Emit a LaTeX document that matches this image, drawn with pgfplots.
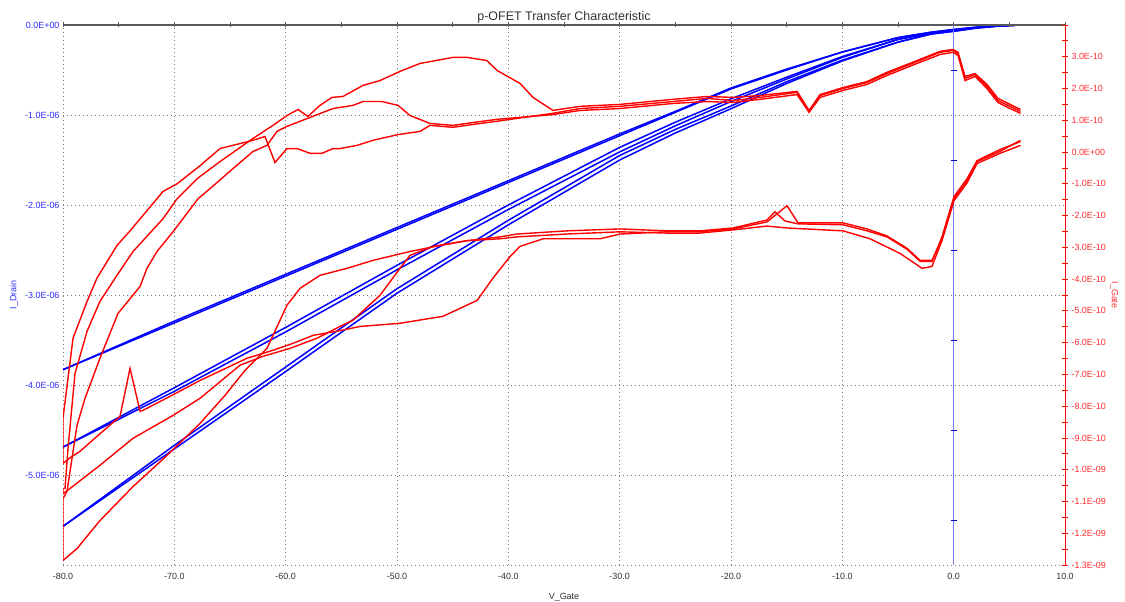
\documentclass[border=0pt]{standalone}
\usepackage{fontspec}
\setmainfont{Liberation Sans}
\usepackage{pgfplots}
\usepackage{pgfplotstable}
\pgfplotsset{compat=1.18}
\usetikzlibrary{calc}

\definecolor{drain}{RGB}{0,0,255}
\definecolor{gatec}{RGB}{255,0,0}
\definecolor{drainlbl}{RGB}{45,45,255}
\definecolor{gatelbl}{RGB}{255,45,45}
\definecolor{gridc}{RGB}{120,120,120}
\definecolor{zeroaxis}{RGB}{120,120,255}
\definecolor{zerotick}{RGB}{0,0,200}
\definecolor{topaxis}{RGB}{90,90,90}
\definecolor{tickgray}{RGB}{50,50,50}

% I_Drain in microampere, three sweep pairs (forward / reverse)
\pgfplotstableread{
V     B1a    B1b    B2a    B2b    B3a    B3b
-80  -3.83  -3.83  -4.69  -4.69  -5.57  -5.57
-70  -3.31  -3.29  -4.03  -4.07  -4.71  -4.67
-60  -2.79  -2.77  -3.36  -3.41  -3.85  -3.80
-50  -2.27  -2.25  -2.67  -2.72  -2.98  -2.93
-40  -1.75  -1.73  -2.00  -2.05  -2.22  -2.17
-30  -1.23  -1.21  -1.36  -1.41  -1.50  -1.45
-25  -0.97  -0.96  -1.08  -1.12  -1.20  -1.16
-20  -0.71  -0.70  -0.82  -0.85  -0.93  -0.90
-15  -0.50  -0.49  -0.58  -0.60  -0.65  -0.63
-10  -0.30  -0.30  -0.35  -0.36  -0.40  -0.39
-5   -0.14  -0.14  -0.16  -0.16  -0.19  -0.19
-2   -0.08  -0.08  -0.09  -0.09  -0.10  -0.10
0    -0.05  -0.05  -0.06  -0.06  -0.07  -0.07
2    -0.025 -0.025 -0.03  -0.03  -0.035 -0.035
4    -0.01  -0.01  -0.01  -0.01  -0.012 -0.012
6     0      0      0      0      0      0
}\draintable

% I_Gate in units of 1e-10 A, one closed cycle per sweep
\pgfplotstableread{
V I
6.00 1.28
5.06 1.44
3.98 1.62
2.99 2.07
1.92 2.44
1.02 2.32
0.39 3.10
-0.05 3.20
-1.23 3.14
-3.29 2.85
-5.99 2.47
-7.78 2.19
-9.94 2.00
-12.00 1.78
-12.99 1.28
-14.07 1.88
-17.40 1.72
-19.82 1.62
-22.15 1.69
-25.21 1.59
-29.97 1.44
-33.56 1.37
-35.99 1.22
-41.02 0.97
-43.17 0.87
-44.97 0.78
-47.04 0.84
-47.93 0.65
-49.91 0.55
-52.16 0.37
-53.59 0.21
-55.12 0.11
-55.75 0.11
-56.74 -0.04
-57.81 -0.04
-58.98 0.11
-59.88 0.11
-60.96 -0.33
-61.86 0.49
-62.93 0.37
-65.90 0.11
-67.69 -0.43
-69.76 -1.00
-71.02 -1.24
-71.56 -1.47
-73.98 -2.48
-75.15 -2.94
-76.95 -3.97
-77.84 -4.70
-79.10 -5.86
-80.00 -8.38
-80.00 -9.80
-79.19 -9.58
-78.47 -9.42
-76.95 -8.95
-74.88 -8.32
-73.98 -6.81
-73.08 -8.16
-72.81 -8.13
-70.39 -7.69
-67.69 -7.19
-63.47 -6.49
-61.14 -6.24
-59.34 -6.02
-57.54 -5.77
-55.39 -5.64
-53.32 -5.49
-49.73 -5.39
-45.87 -5.17
-42.81 -4.67
-41.38 -3.97
-39.85 -3.29
-38.95 -2.97
-36.89 -2.73
-31.77 -2.73
-29.97 -2.58
-25.75 -2.51
-22.78 -2.51
-19.82 -2.42
-16.77 -2.20
-14.97 -1.69
-13.98 -2.23
-9.94 -2.23
-7.78 -2.42
-5.99 -2.64
-4.19 -3.03
-3.02 -3.41
-1.95 -3.41
-1.05 -2.73
0.03 -1.47
1.20 -0.91
2.10 -0.30
4.16 0.02
6.00 0.37
}\gateA

\pgfplotstableread{
V I
6.00 1.34
5.06 1.50
3.98 1.69
2.99 2.13
1.92 2.47
1.02 2.38
0.39 3.14
-0.06 3.23
-1.23 3.17
-3.29 2.88
-5.99 2.51
-7.78 2.22
-9.94 2.03
-12.00 1.81
-12.99 1.31
-14.07 1.91
-17.40 1.78
-19.82 1.72
-22.15 1.75
-25.21 1.66
-29.97 1.50
-33.56 1.44
-35.99 1.31
-37.78 1.72
-38.95 2.16
-41.02 2.57
-41.92 2.88
-43.71 2.98
-44.97 2.98
-47.93 2.79
-49.73 2.54
-51.53 2.25
-53.05 2.10
-54.85 1.75
-55.84 1.72
-56.92 1.47
-58.00 1.12
-58.89 1.34
-59.88 1.15
-61.14 0.84
-62.93 0.43
-65.90 -0.30
-67.96 -0.84
-69.76 -1.47
-71.02 -2.10
-73.71 -3.13
-75.15 -3.88
-76.68 -4.70
-77.84 -5.64
-78.92 -6.97
-79.55 -9.33
-79.82 -10.59
-80.00 -10.59
-80.00 -10.75
-79.37 -10.59
-76.68 -9.86
-73.71 -9.01
-70.12 -8.29
-67.69 -7.75
-64.10 -6.71
-62.04 -6.43
-59.61 -6.18
-57.19 -5.86
-55.12 -5.49
-53.95 -5.29
-51.53 -4.51
-49.73 -3.66
-48.83 -3.25
-46.77 -2.97
-43.71 -2.79
-40.75 -2.67
-39.22 -2.58
-34.73 -2.48
-29.97 -2.42
-25.75 -2.48
-22.78 -2.48
-19.82 -2.39
-16.77 -2.14
-16.05 -1.88
-15.15 -2.17
-13.98 -2.26
-9.94 -2.29
-7.78 -2.48
-5.99 -2.67
-4.19 -3.06
-3.02 -3.44
-1.95 -3.44
-1.05 -2.67
0.03 -1.40
1.20 -0.84
2.10 -0.27
4.16 0.08
6.00 0.33
}\gateB

\pgfplotstableread{
V I
6.00 1.22
5.06 1.37
3.98 1.56
2.99 2.00
1.92 2.38
1.02 2.25
0.39 3.04
-0.06 3.14
-1.23 3.07
-3.29 2.79
-5.99 2.41
-7.78 2.13
-9.94 1.94
-12.00 1.72
-12.99 1.25
-14.07 1.81
-17.40 1.66
-19.82 1.56
-22.15 1.59
-25.21 1.53
-29.97 1.37
-33.56 1.31
-35.99 1.18
-41.02 1.03
-43.17 0.93
-44.97 0.84
-47.04 0.90
-48.83 1.15
-49.91 1.47
-51.35 1.59
-53.05 1.59
-53.95 1.47
-55.75 1.37
-57.81 1.09
-59.88 0.81
-60.78 0.65
-61.68 0.21
-62.93 0.02
-64.73 -0.52
-66.53 -1.07
-67.87 -1.47
-70.12 -2.51
-71.56 -3.13
-72.46 -3.66
-73.08 -4.23
-75.06 -5.08
-76.68 -6.49
-78.02 -7.75
-78.74 -8.60
-79.64 -10.68
-80.00 -10.91
-80.00 -12.86
-78.74 -12.48
-76.68 -11.60
-73.71 -10.53
-70.66 -9.55
-67.69 -8.54
-65.45 -7.66
-63.65 -6.87
-61.68 -6.18
-59.88 -4.82
-58.71 -4.29
-56.92 -3.88
-54.49 -3.66
-52.16 -3.41
-48.83 -3.13
-46.14 -2.94
-43.71 -2.79
-40.75 -2.73
-39.22 -2.67
-34.73 -2.58
-29.97 -2.51
-25.75 -2.55
-22.78 -2.55
-19.82 -2.45
-16.77 -2.33
-14.97 -2.39
-9.94 -2.48
-7.51 -2.73
-4.82 -3.19
-2.84 -3.66
-1.95 -3.60
-1.05 -2.79
0.03 -1.53
1.20 -0.97
2.10 -0.36
4.16 -0.04
6.00 0.21
}\gateC

\newcommand{\ticksize}{\fontsize{9}{10}\selectfont}

\begin{document}
\begin{tikzpicture}
% drain current, left scale
\begin{axis}[
  name=main,
  scale only axis, width=1002bp, height=540bp,
  xmin=-80, xmax=10, ymin=-6, ymax=0,
  clip=false,
  xtick={-80,-70,-60,-50,-40,-30,-20,-10,0,10},
  xticklabels={-80.0,-70.0,-60.0,-50.0,-40.0,-30.0,-20.0,-10.0,0.0,10.0},
  ytick={-5,-4,-3,-2,-1,0},
  yticklabels={-5.0E-06,-4.0E-06,-3.0E-06,-2.0E-06,-1.0E-06,0.0E+00},
  extra y ticks={-6}, extra y tick labels={},
  extra tick style={grid=major},
  grid=major,
  major grid style={gridc, line width=0.8bp, dash pattern=on 0.8bp off 3.2bp},
  axis line style={draw=none},
  major tick length=0pt,
  tick label style={font=\ticksize},
  xticklabel style={text=tickgray, yshift=-5bp},
  yticklabel style={text=drainlbl},
]
\addplot[drain, line width=1.5bp] table[x=V, y=B1a] {\draintable};
\addplot[drain, line width=1.5bp] table[x=V, y=B1b] {\draintable};
\addplot[drain, line width=1.5bp] table[x=V, y=B2a] {\draintable};
\addplot[drain, line width=1.5bp] table[x=V, y=B2b] {\draintable};
\addplot[drain, line width=1.5bp] table[x=V, y=B3a] {\draintable};
\addplot[drain, line width=1.5bp] table[x=V, y=B3b] {\draintable};
\end{axis}

% zero lines of the two drain axes
\draw[topaxis, line width=1.1bp] (main.north west) -- (main.north east);
\foreach \t in {-80,-75,...,10}
  \draw[topaxis, line width=0.8bp]
    ($(main.north west)!{(\t+80)/90}!(main.north east)$) ++(0,-2.5bp) -- ++(0,5bp);
\draw[zeroaxis, line width=1.6bp]
  ($(main.south west)!8/9!(main.south east)$) -- ($(main.north west)!8/9!(main.north east)$);
\foreach \v in {0.5,1.5,2.5,3.5,4.5,5.5}
  \draw[zerotick, line width=0.8bp]
    ($($(main.south west)!8/9!(main.south east)$)!{\v/6}!($(main.north west)!8/9!(main.north east)$)$)
    ++(-3bp,0) -- ++(6bp,0);

% gate current, right scale
\begin{axis}[
  scale only axis, width=1002bp, height=540bp,
  xmin=-80, xmax=10, ymin=-13, ymax=4,
  axis x line=none, axis y line*=right,
  ytick={-13,-12,-11,-10,-9,-8,-7,-6,-5,-4,-3,-2,-1,0,1,2,3,4},
  yticklabels={-1.3E-09,-1.2E-09,-1.1E-09,-1.0E-09,-9.0E-10,-8.0E-10,-7.0E-10,-6.0E-10,-5.0E-10,-4.0E-10,-3.0E-10,-2.0E-10,-1.0E-10,0.0E+00,1.0E-10,2.0E-10,3.0E-10,{}},
  minor ytick={-12.5,-11.5,-10.5,-9.5,-8.5,-7.5,-6.5,-5.5,-4.5,-3.5,-2.5,-1.5,-0.5,0.5,1.5,2.5,3.5},
  tick align=center,
  major tick length=6bp, minor tick length=6bp,
  axis line style={gatec, line width=1bp},
  every tick/.style={gatec, line width=0.8bp},
  tick label style={font=\ticksize},
  yticklabel style={text=gatelbl},
]
\addplot[gatec, line width=1.4bp] table[x=V, y=I] {\gateA};
\addplot[gatec, line width=1.4bp] table[x=V, y=I] {\gateB};
\addplot[gatec, line width=1.4bp] table[x=V, y=I] {\gateC};
\end{axis}

\node[anchor=base, text=tickgray, font=\fontsize{12.5}{14}\selectfont]
  at ([yshift=4bp]main.north) {p-OFET Transfer Characteristic};
\node[rotate=90, text=drainlbl, font=\ticksize] at ([xshift=-49bp]main.west) {I\_Drain};
\node[rotate=-90, text=gatelbl, font=\ticksize] at ([xshift=49bp]main.east) {I\_Gate};
\node[anchor=base, text=tickgray, font=\ticksize] at ([yshift=-34bp]main.south) {V\_Gate};

\pgfresetboundingbox
\path ([shift={(-63bp,-36bp)}]main.south west) rectangle ([shift={(60bp,25bp)}]main.north east);
\end{tikzpicture}
\end{document}
